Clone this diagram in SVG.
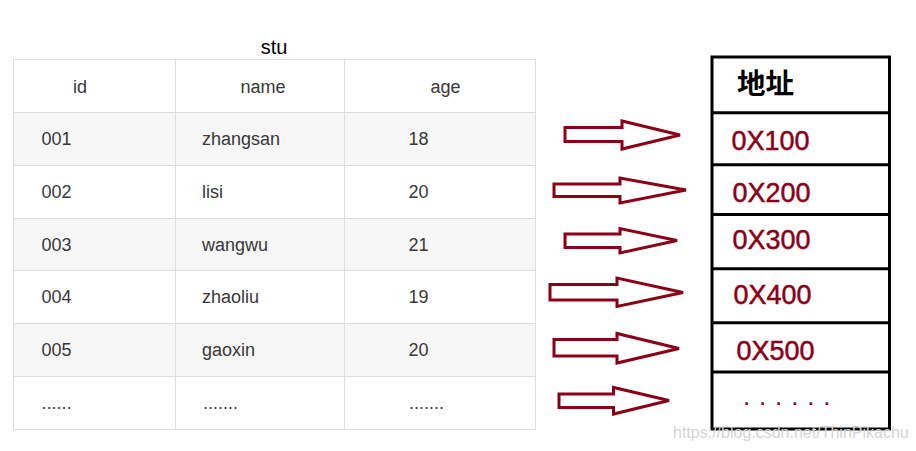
<svg xmlns="http://www.w3.org/2000/svg" width="916" height="451" viewBox="0 0 916 451">
<style>
.cell{fill:#ffffff;stroke:#dddddd;stroke-width:1}
.alt{fill:#f6f6f6}
.t{font-family:"Liberation Sans",Arial,sans-serif;font-size:18px;fill:#383838}
.h{text-anchor:middle}
.box{fill:#ffffff;stroke:#000000;stroke-width:3}
.addr{font-family:"Liberation Sans",Arial,sans-serif;font-size:27.5px;fill:#8b0016;stroke:#8b0016;stroke-width:0.5}
.arrow{fill:#ffffff;stroke:#8b0016;stroke-width:3;stroke-linejoin:miter}
</style>
<rect width="916" height="451" fill="#ffffff"/>
<text x="274" y="54" text-anchor="middle" font-family="'Liberation Sans',Arial,sans-serif" font-size="20" fill="#000000">stu</text>
<g id="table">
<rect x="13.5" y="59.5" width="522" height="53" class="cell"/>
<rect x="13.5" y="112.5" width="522" height="53" class="cell alt"/>
<rect x="13.5" y="165.5" width="522" height="53" class="cell"/>
<rect x="13.5" y="218.5" width="522" height="52" class="cell alt"/>
<rect x="13.5" y="270.5" width="522" height="53" class="cell"/>
<rect x="13.5" y="323.5" width="522" height="53" class="cell alt"/>
<rect x="13.5" y="376.5" width="522" height="53" class="cell"/>
<line x1="175.5" y1="59.5" x2="175.5" y2="429.5" stroke="#dddddd"/>
<line x1="344.5" y1="59.5" x2="344.5" y2="429.5" stroke="#dddddd"/>
<text class="t h" x="80" y="93">id</text>
<text class="t h" x="263" y="93">name</text>
<text class="t h" x="445.5" y="93">age</text>
<text class="t" x="41.5" y="145">001</text><text class="t" x="202" y="145">zhangsan</text><text class="t" x="408.5" y="145">18</text>
<text class="t" x="41.5" y="198">002</text><text class="t" x="202" y="198">lisi</text><text class="t" x="408.5" y="198">20</text>
<text class="t" x="41.5" y="251">003</text><text class="t" x="202" y="251">wangwu</text><text class="t" x="408.5" y="251">21</text>
<text class="t" x="41.5" y="303">004</text><text class="t" x="202" y="303">zhaoliu</text><text class="t" x="408.5" y="303">19</text>
<text class="t" x="41.5" y="356">005</text><text class="t" x="202" y="356">gaoxin</text><text class="t" x="408.5" y="356">20</text>
<text class="t" x="41.5" y="409">......</text><text class="t" x="203" y="409">.......</text><text class="t" x="409" y="409">.......</text>
</g>
<g id="connectors">
<polygon class="arrow" points="565,127.5 622,127.5 622,121 680,135 622,149 622,141.5 565,141.5"/>
<polygon class="arrow" points="554,184 620,184 620,178 686,190 620,203 620,196.5 554,196.5"/>
<polygon class="arrow" points="565,234 620,234 620,228.5 677,240.5 620,253 620,247.5 565,247.5"/>
<polygon class="arrow" points="550,284.5 617,284.5 617,278 683,292.5 617,306.5 617,300 550,300"/>
<polygon class="arrow" points="554,339.5 617,339.5 617,333.5 679,348.5 617,363 617,356 554,356"/>
<polygon class="arrow" points="559,394 613.5,394 613.5,387.5 669,400.5 613.5,414 613.5,407.5 559,407.5"/>
</g>
<g id="addresses">
<rect x="712" y="57" width="177.5" height="372" class="box"/>
<line x1="712" y1="112.8" x2="889.5" y2="112.8" stroke="#000" stroke-width="3"/>
<line x1="712" y1="164.7" x2="889.5" y2="164.7" stroke="#000" stroke-width="3"/>
<line x1="712" y1="214.5" x2="889.5" y2="214.5" stroke="#000" stroke-width="3"/>
<line x1="712" y1="268.8" x2="889.5" y2="268.8" stroke="#000" stroke-width="3"/>
<line x1="712" y1="322.8" x2="889.5" y2="322.8" stroke="#000" stroke-width="3"/>
<line x1="712" y1="372" x2="889.5" y2="372" stroke="#000" stroke-width="3"/>
<text x="737" y="94" font-family="'Noto Sans CJK SC',sans-serif" font-size="28.5" font-weight="bold" fill="#000000">地址</text>
<text class="addr" x="731.5" y="150" textLength="78" lengthAdjust="spacingAndGlyphs">0X100</text>
<text class="addr" x="732.5" y="201.5" textLength="78" lengthAdjust="spacingAndGlyphs">0X200</text>
<text class="addr" x="732.5" y="249.3" textLength="78" lengthAdjust="spacingAndGlyphs">0X300</text>
<text class="addr" x="733.5" y="304" textLength="78" lengthAdjust="spacingAndGlyphs">0X400</text>
<text class="addr" x="736.5" y="360" textLength="78" lengthAdjust="spacingAndGlyphs">0X500</text>
<text x="743" y="405" font-family="'Liberation Sans',Arial,sans-serif" font-size="26" fill="#8b0016" letter-spacing="0.8">. . . . . .</text>
</g>
<text x="673" y="438" font-family="'Liberation Sans',Arial,sans-serif" font-size="16" fill="#d4d4d4">https://blog.csdn.net/ThinPikachu</text>
</svg>
